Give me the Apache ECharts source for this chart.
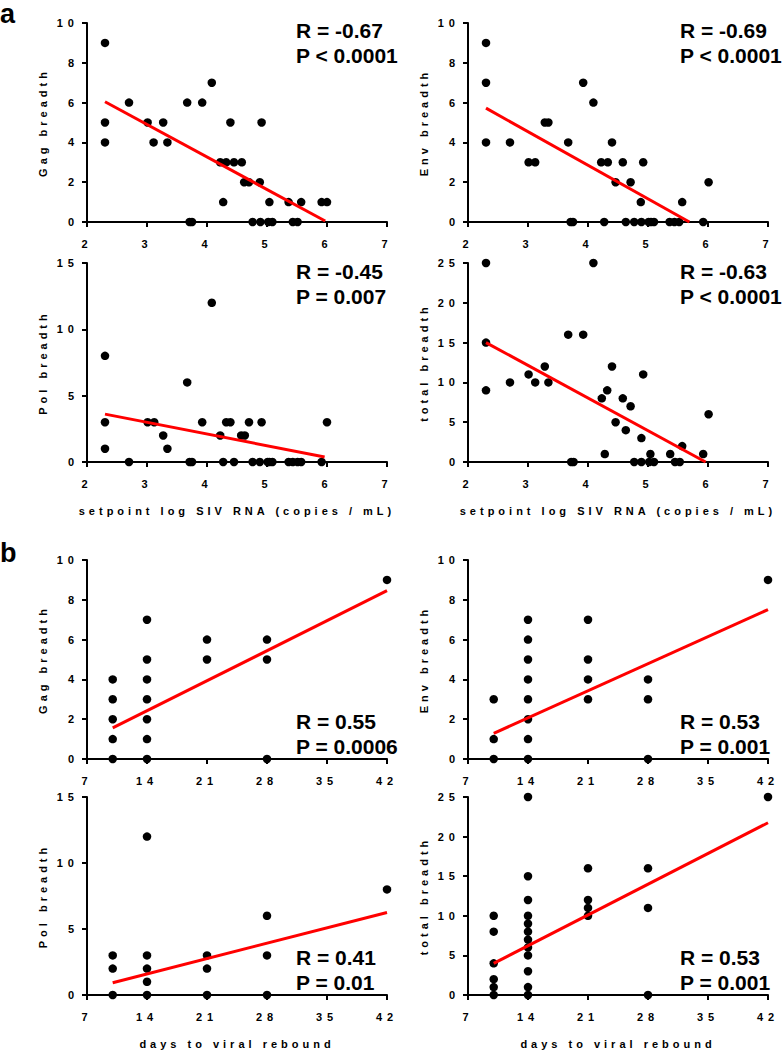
<!DOCTYPE html>
<html>
<head>
<meta charset="utf-8">
<script src="https://cdn.jsdelivr.net/npm/echarts@6/dist/echarts.min.js"></script>
<style>
html,body{margin:0;padding:0;background:#fff;}
#chart{width:782px;height:1050px;}
</style>
</head>
<body>
<div id="chart"></div>
<script>
// ---------- data ----------
const gagSetpoint = [[2.30,9],[2.30,5],[2.30,4],[2.70,6],[3.01,5],[3.11,4],[3.27,5],[3.34,4],[3.67,6],[3.71,0],[3.75,0],[3.92,6],[4.08,7],[4.22,3],[4.27,1],[4.32,3],[4.39,5],[4.45,3],[4.58,3],[4.62,2],[4.70,2],[4.76,0],[4.88,2],[4.89,0],[4.91,5],[5.02,0],[5.04,1],[5.09,0],[5.36,1],[5.43,0],[5.51,0],[5.57,1],[5.91,1],[6.00,1]];
const envSetpoint = [[2.30,9],[2.30,7],[2.30,4],[2.70,4],[3.01,3],[3.12,3],[3.28,5],[3.34,5],[3.67,4],[3.71,0],[3.75,0],[3.92,7],[4.09,6],[4.22,3],[4.27,0],[4.33,3],[4.40,4],[4.46,2],[4.58,3],[4.63,0],[4.71,2],[4.77,0],[4.88,1],[4.89,0],[4.92,3],[5.01,0],[5.05,0],[5.10,0],[5.36,0],[5.44,0],[5.52,0],[5.57,1],[5.92,0],[6.01,2]];
const polSetpoint = [[2.30,8],[2.30,3],[2.30,1],[2.70,0],[3.01,3],[3.12,3],[3.27,2],[3.34,1],[3.67,6],[3.71,0],[3.75,0],[3.92,3],[4.08,12],[4.22,2],[4.27,0],[4.32,3],[4.39,3],[4.45,0],[4.57,2],[4.63,2],[4.70,3],[4.76,0],[4.88,0],[4.91,3],[5.01,0],[5.04,0],[5.09,0],[5.36,0],[5.43,0],[5.51,0],[5.57,0],[5.91,0],[6.00,3]];
const totalSetpoint = [[2.30,25],[2.30,15],[2.30,9],[2.70,10],[3.01,11],[3.12,10],[3.28,12],[3.34,10],[3.67,16],[3.72,0],[3.76,0],[3.92,16],[4.09,25],[4.23,8],[4.28,1],[4.32,9],[4.40,12],[4.46,5],[4.58,8],[4.63,4],[4.71,7],[4.77,0],[4.89,3],[4.89,0],[4.92,11],[5.02,0],[5.04,1],[5.10,0],[5.37,1],[5.45,0],[5.53,0],[5.57,2],[5.92,1],[6.01,6]];

const gagRebound = [[10,4],[10,3],[10,2],[10,1],[10,0],[14,7],[14,5],[14,4],[14,3],[14,2],[14,1],[14,0],[21,6],[21,5],[28,6],[28,5],[28,0],[42,9]];
const envRebound = [[10,3],[10,1],[10,0],[14,7],[14,6],[14,5],[14,4],[14,3],[14,2],[14,1],[14,0],[21,7],[21,5],[21,4],[21,3],[28,4],[28,3],[28,0],[42,9]];
const polRebound = [[10,3],[10,2],[10,0],[14,12],[14,3],[14,2],[14,1],[14,0],[21,3],[21,2],[21,0],[28,6],[28,3],[28,0],[42,8]];
const totalRebound = [[10,10],[10,8],[10,4],[10,2],[10,1],[10,0],[14,25],[14,15],[14,12],[14,10],[14,9],[14,8],[14,7],[14,6],[14,5],[14,3],[14,1],[14,0],[21,16],[21,12],[21,11],[21,10],[28,16],[28,11],[28,0],[42,25]];

// regression line end points
const fitGagSetpoint = [[2.30,6.04],[5.97,0.05]];
const fitEnvSetpoint = [[2.30,5.72],[5.69,0.0]];
const fitPolSetpoint = [[2.30,3.61],[5.96,0.38]];
const fitTotalSetpoint = [[2.30,15.0],[5.96,0.0]];
const fitGagRebound = [[10,1.56],[42,8.46]];
const fitEnvRebound = [[10,1.29],[42,7.51]];
const fitPolRebound = [[10,0.93],[42,6.25]];
const fitTotalRebound = [[10,4.0],[42,21.75]];

const rLabels = ['R = -0.67','R = -0.69','R = -0.45','R = -0.63','R = 0.55','R = 0.53','R = 0.41','R = 0.53'];
const pLabels = ['P < 0.0001','P < 0.0001','P = 0.007','P < 0.0001','P = 0.0006','P = 0.001','P = 0.01','P = 0.001'];
const yNames = ['Gag breadth','Env breadth','Pol breadth','total breadth','Gag breadth','Env breadth','Pol breadth','total breadth'];
const yMax = [10,10,15,25,10,10,15,25];
const yStep = [2,2,5,5,2,2,5,5];
const xNameSetpoint = 'setpoint log SIV RNA (copies / mL)';
const xNameRebound = 'days to viral rebound';
const xRangeSetpoint = [2,7,1];
const xRangeRebound = [7,42,7];
const panelLetters = ['a','b'];

// ---------- layout ----------
const FONT = "'Liberation Sans', Arial, sans-serif";
const colLeft = [87, 468];
const rowTop = [23, 263, 560, 797];
const GW = 300, GH = 199;
const statsPos = [[296,30],[680,30],[296,271],[680,271],[296,721],[680,721],[296,957],[680,957]];

const scatterData = [gagSetpoint, envSetpoint, polSetpoint, totalSetpoint, gagRebound, envRebound, polRebound, totalRebound];
const fitData = [fitGagSetpoint, fitEnvSetpoint, fitPolSetpoint, fitTotalSetpoint, fitGagRebound, fitEnvRebound, fitPolRebound, fitTotalRebound];

const grids = [], xAxes = [], yAxes = [], series = [], graphics = [];
const axisCommon = {
  axisLine: {show: true, onZero: false, lineStyle: {color: '#000', width: 2}},
  axisTick: {show: true, inside: false, length: 5, lineStyle: {color: '#000', width: 2}},
  splitLine: {show: false},
};
for (let i = 0; i < 8; i++) {
  const row = Math.floor(i / 2), col = i % 2;
  grids.push({left: colLeft[col], top: rowTop[row], width: GW, height: GH, containLabel: false});
  const isSet = i < 4;
  const xr = isSet ? xRangeSetpoint : xRangeRebound;
  const showName = row === 1 || row === 3;
  xAxes.push(Object.assign({}, axisCommon, {
    type: 'value', gridIndex: i, min: xr[0], max: xr[1], interval: xr[2],
    axisLabel: {color: '#000', fontFamily: FONT, fontWeight: 'bold', fontSize: 11, margin: 16},
    name: showName ? (isSet ? xNameSetpoint : xNameRebound) : '',
    nameLocation: 'middle', nameGap: 43,
    nameTextStyle: {color: '#000', fontFamily: FONT, fontWeight: 'bold', fontSize: 11}
  }));
  yAxes.push(Object.assign({}, axisCommon, {
    type: 'value', gridIndex: i, min: 0, max: yMax[i], interval: yStep[i],
    axisLabel: {color: '#000', fontFamily: FONT, fontWeight: 'bold', fontSize: 11, margin: 8},
    name: yNames[i], nameLocation: 'middle', nameGap: 39, nameRotate: 90,
    nameTextStyle: {color: '#000', fontFamily: FONT, fontWeight: 'bold', fontSize: 11}
  }));
  series.push({
    type: 'scatter', xAxisIndex: i, yAxisIndex: i, data: scatterData[i],
    symbol: 'circle', symbolSize: 8.5, itemStyle: {color: '#000', opacity: 1}, clip: false, z: 3,
    silent: true
  });
  series.push({
    type: 'line', xAxisIndex: i, yAxisIndex: i, data: fitData[i],
    symbol: 'none', lineStyle: {color: '#ff0000', width: 3}, clip: false, z: 4,
    silent: true
  });
  graphics.push({type: 'text', x: statsPos[i][0], y: statsPos[i][1],
    style: {text: rLabels[i], font: 'bold 21px ' + FONT, fill: '#000', verticalAlign: 'middle'}});
  graphics.push({type: 'text', x: statsPos[i][0], y: statsPos[i][1] + 25.5,
    style: {text: pLabels[i], font: 'bold 21px ' + FONT, fill: '#000', verticalAlign: 'middle'}});
}
graphics.push({type: 'text', x: 0, y: 0, style: {text: panelLetters[0], font: 'bold 27px ' + FONT, fill: '#000', verticalAlign: 'top'}});
graphics.push({type: 'text', x: 0, y: 552.5, style: {text: panelLetters[1], font: 'bold 27px ' + FONT, fill: '#000', verticalAlign: 'middle'}});

const chart = echarts.init(document.getElementById('chart'), null, {renderer: 'svg'});
chart.setOption({
  animation: false,
  backgroundColor: '#fff',
  grid: grids, xAxis: xAxes, yAxis: yAxes, series: series, graphic: graphics
});

function applySpacing() {
  document.querySelectorAll('#chart svg text').forEach(function (t) {
    const s = t.textContent.trim();
    if (/^(R =|P [<=])/.test(s) || s === 'a' || s === 'b') return;
    t.style.letterSpacing = /^\d+$/.test(s) ? '5px' : '4px';
  });
}
chart.getZr().flush();
applySpacing();
chart.on('finished', applySpacing);
setTimeout(applySpacing, 50);
</script>
</body>
</html>
